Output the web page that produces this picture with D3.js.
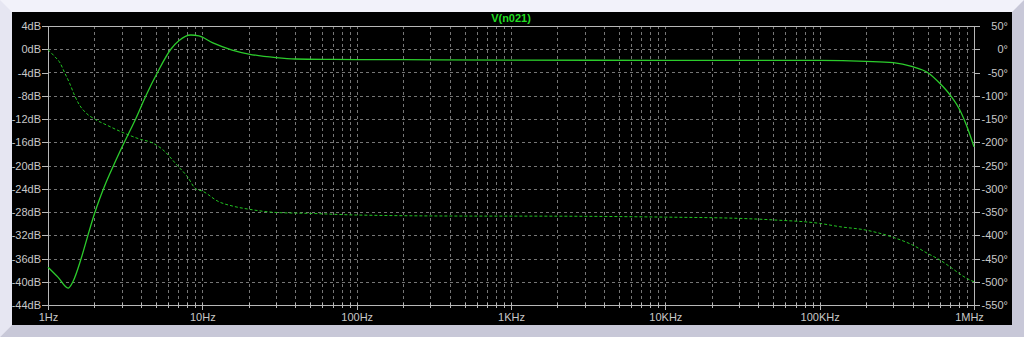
<!DOCTYPE html>
<html>
<head>
<meta charset="utf-8">
<script src="https://cdn.jsdelivr.net/npm/d3@7"></script>
<style>
  body { margin: 0; background: #f2f2fa; }
  svg { display: block; }
  text { font-family: "Liberation Sans", Arial, sans-serif; font-size: 11px; }
</style>
</head>
<body>
<div id="chart-area"></div>
<script>
// data (Bode plot of V(n021))
const magFreq = [1, 1.16, 1.35, 1.45, 1.64, 1.81, 2, 2.15, 2.32, 2.69, 3.15, 3.71, 4.31, 5.12, 6.25, 7.07,
  8.42, 9.5, 11.6, 15.6, 20, 30, 40, 70, 200, 1000, 10000, 100000, 200000, 300000, 400000,
  500000, 600000, 700000, 800000, 900000, 1000000]
const magDb = [-37.5, -39.2, -41.1, -40.0, -36, -32.1, -28.3, -25.9, -23.6, -19.7, -15.8, -11.9, -8, -4, 0, 1.5,
  2.45, 2.3, 1.13, -0.13, -0.82, -1.45, -1.68, -1.75, -1.8, -1.88, -1.9, -1.92, -2.08, -2.3, -3.0,
  -4.0, -5.86, -7.87, -10.2, -13.3, -16.8]

const phaseFreq = [1, 1.1, 1.2, 1.28, 1.38, 1.49, 1.6, 1.75, 2, 2.4, 3, 4, 4.64, 5.5, 6.89,
  8, 9.05, 10, 12.8, 15.6, 20, 30, 50, 100, 450, 2000, 10000, 30000, 50000, 100000, 135000,
  200000, 300000, 400000, 500000, 600000, 700000, 800000, 900000, 1000000]
const phaseDeg = [-1, -15, -30, -50, -73, -100, -120, -136, -150, -163, -178, -194, -200, -215, -250,
  -274, -300, -305, -328, -337, -344, -351, -353, -356.5, -358.7, -359, -361, -363.7, -367, -374.5, -381.6,
  -389, -404.6, -421, -439, -453, -468, -482, -493, -500]

const freqTicks = [1, 10, 100, 1000, 10000, 100000, 1000000]
const freqLabels = ["1Hz", "10Hz", "100Hz", "1KHz", "10KHz", "100KHz", "1MHz"]
const dbTicks = [4, 0, -4, -8, -12, -16, -20, -24, -28, -32, -36, -40, -44]
const phaseTicks = [50, 0, -50, -100, -150, -200, -250, -300, -350, -400, -450, -500, -550]
const title = "V(n021)"

const W = 1024, H = 337
const PLOT = { LEFT: 48, RIGHT: 974, TOP: 26, BOTTOM: 305 }

const svg = d3.select("#chart-area").append("svg")
  .attr("width", W)
  .attr("height", H)

// window frame with bevel
svg.append("rect").attr("width", W).attr("height", H).attr("fill", "#f2f2fa")
svg.append("polygon")
  .attr("points", "0,0 12,12 12,325 0,337")
  .attr("fill", "#e6e6f2")
svg.append("polygon")
  .attr("points", `${W},0 ${W},${H} 0,${H} 12,325 1012,325 1012,12`)
  .attr("fill", "#c8c8d8")
svg.append("rect")
  .attr("x", 12).attr("y", 12)
  .attr("width", 1000).attr("height", 313)
  .attr("fill", "#000")

// scales
const x = d3.scaleLog().domain([1, 1e6]).range([PLOT.LEFT, PLOT.RIGHT])
const y = d3.scaleLinear().domain([-44, 4]).range([PLOT.BOTTOM, PLOT.TOP])
const yPh = d3.scaleLinear().domain([-550, 50]).range([PLOT.BOTTOM, PLOT.TOP])

const minorFreqs = []
freqTicks.slice(0, -1).forEach(dec => {
  for (let k = 2; k <= 9; k++) minorFreqs.push(dec * k)
})

// grid
const grid = svg.append("g")
  .attr("stroke", "#767676")
  .attr("stroke-width", 1)
  .attr("stroke-dasharray", "3,3")
  .attr("shape-rendering", "crispEdges")

grid.selectAll(".vgrid")
  .data(minorFreqs.concat(freqTicks.slice(1, -1)))
  .enter().append("line")
  .attr("x1", d => Math.round(x(d)) + 0.5)
  .attr("x2", d => Math.round(x(d)) + 0.5)
  .attr("y1", PLOT.TOP)
  .attr("y2", PLOT.BOTTOM)

grid.selectAll(".hgrid")
  .data(dbTicks.slice(1, -1))
  .enter().append("line")
  .attr("x1", PLOT.LEFT)
  .attr("x2", PLOT.RIGHT)
  .attr("y1", d => Math.round(y(d)) + 0.5)
  .attr("y2", d => Math.round(y(d)) + 0.5)

// axes
const axisColor = "#b8b8b8"
const labelColor = "#c8c8c8"

function styleAxis(sel) {
  sel.attr("shape-rendering", "crispEdges")
  sel.select(".domain").attr("stroke", axisColor)
  sel.selectAll(".tick line").attr("stroke", axisColor)
  sel.selectAll(".tick text").attr("fill", labelColor)
    .attr("font-family", "Liberation Sans, Arial, sans-serif")
    .attr("font-size", "11px")
}

const yAxis = svg.append("g")
  .attr("transform", `translate(${PLOT.LEFT},0)`)
  .call(d3.axisLeft(y).tickValues(dbTicks).tickSize(6).tickSizeOuter(0).tickPadding(1)
    .tickFormat(d => d + "dB"))
styleAxis(yAxis)

const yAxisR = svg.append("g")
  .attr("transform", `translate(${PLOT.RIGHT},0)`)
  .call(d3.axisRight(yPh).tickValues(phaseTicks).tickSize(6).tickSizeOuter(0)
    .tickFormat(d => d + "°"))
styleAxis(yAxisR)
yAxisR.selectAll(".tick text").attr("x", 34).attr("text-anchor", "end")

const xAxis = svg.append("g")
  .attr("transform", `translate(0,${PLOT.BOTTOM})`)
  .call(d3.axisBottom(x).tickValues(freqTicks).tickSize(5).tickSizeOuter(0).tickPadding(3)
    .tickFormat((d, i) => freqLabels[i]))
styleAxis(xAxis)
xAxis.selectAll(".tick line").attr("y1", -2)
xAxis.selectAll(".tick text").filter((d, i) => i === freqTicks.length - 1).attr("dx", -5)

const xMinor = svg.append("g")
  .attr("transform", `translate(0,${PLOT.BOTTOM})`)
  .call(d3.axisBottom(x).tickValues(minorFreqs).tickSize(3).tickSizeOuter(0).tickFormat(""))
styleAxis(xMinor)
xMinor.selectAll(".tick line").attr("y1", -2)

// top border
svg.append("line")
  .attr("x1", PLOT.LEFT).attr("x2", PLOT.RIGHT)
  .attr("y1", PLOT.TOP + 0.5).attr("y2", PLOT.TOP + 0.5)
  .attr("stroke", axisColor)
  .attr("shape-rendering", "crispEdges")

// title
svg.append("text")
  .attr("x", (PLOT.LEFT + PLOT.RIGHT) / 2)
  .attr("y", 22)
  .attr("text-anchor", "middle")
  .attr("fill", "#22dd22")
  .attr("font-weight", "bold")
  .text(title)

// curves
const magLine = d3.line()
  .x(d => x(d[0]))
  .y(d => y(d[1]))
  .curve(d3.curveMonotoneX)

const phaseLine = d3.line()
  .x(d => x(d[0]))
  .y(d => yPh(d[1]))
  .curve(d3.curveMonotoneX)

svg.append("path")
  .attr("d", phaseLine(d3.zip(phaseFreq, phaseDeg)))
  .attr("fill", "none")
  .attr("stroke", "#22c422")
  .attr("stroke-width", 1)
  .attr("stroke-dasharray", "3,2")

svg.append("path")
  .attr("d", magLine(d3.zip(magFreq, magDb)))
  .attr("fill", "none")
  .attr("stroke", "#2ccc2c")
  .attr("stroke-width", 1.3)
</script>
</body>
</html>
